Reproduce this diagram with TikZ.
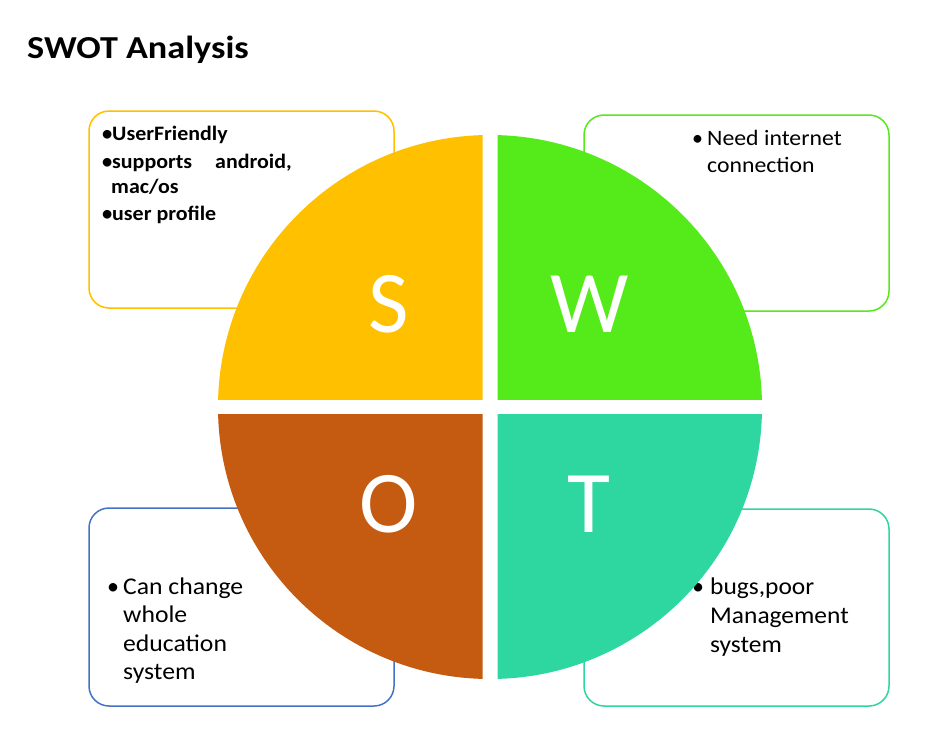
\documentclass[tikz,border=0pt]{standalone}
\usepackage{fontspec}
\usepackage{graphicx}
\setmainfont{Carlito}
\definecolor{scol}{HTML}{FFC000}
\definecolor{wcol}{HTML}{55EA1A}
\definecolor{ocol}{HTML}{C55A11}
\definecolor{tcol}{HTML}{2ED6A0}
\definecolor{obox}{HTML}{4472C4}
\newcommand{\widetxt}[2]{\scalebox{#1}[1]{#2}}
\tikzset{
  card/.style={draw, line width=1.5pt, rounded corners=20pt, fill=white},
  ln/.style={anchor=base west, inner sep=0pt, text=black},
  sline/.style={ln, font=\fontsize{20.5}{24}\selectfont\bfseries},
  wline/.style={ln, font=\fontsize{22}{26}\selectfont},
  oline/.style={ln, font=\fontsize{24}{28}\selectfont},
  letter/.style={text=white, inner sep=0pt, font=\fontsize{88}{88}\selectfont},
}
\begin{document}
\begin{tikzpicture}[x=1pt,y=-1pt]
\useasboundingbox (0,0) rectangle (937,731);
\fill[white] (0,0) rectangle (937,731);
\node[anchor=base west, inner sep=0pt, font=\fontsize{32}{36}\selectfont\bfseries] (title) at (27,58.5) {\widetxt{1.13}{SWOT Analysis}};
% boxes
\draw[card, draw=scol] (89,111) rectangle (394,308);
\draw[card, draw=wcol] (584,115) rectangle (889,311);
\draw[card, draw=obox] (89,508) rectangle (394,706);
\draw[card, draw=tcol] (584,509) rectangle (889,706);
% S text
\node[sline] (sb1) at (102,140) {\textbullet};
\node[sline] (s1) at (112,140) {\widetxt{1.07}{UserFriendly}};
\node[sline] (sb2) at (102,168) {\textbullet};
\node[sline] (s2) at (112,168) {\widetxt{1.07}{supports}};
\node[sline] (s2b) at (215,168) {\widetxt{1.07}{android,}};
\node[sline] (s3) at (111,193) {\widetxt{1.07}{mac/os}};
\node[sline] (sb4) at (102,220) {\textbullet};
\node[sline] (s4) at (112,220) {\widetxt{1.07}{user profile}};
% W text
\node[wline] (wb1) at (692,145) {\textbullet};
\node[wline] (w1) at (707,145) {\widetxt{1.08}{Need internet}};
\node[wline] (w2) at (707,172) {\widetxt{1.08}{connection}};
% O text
\node[oline] (ob1) at (107,594) {\textbullet};
\node[oline] (o1) at (123,594) {\widetxt{1.07}{Can change}};
\node[oline] (o2) at (123,622.5) {\widetxt{1.07}{whole}};
\node[oline] (o3) at (123,651) {\widetxt{1.07}{education}};
\node[oline] (o4) at (123,679.5) {\widetxt{1.07}{system}};
% T text
\node[oline] (tb1) at (692,594) {\textbullet};
\node[oline] (t1) at (710,594) {\widetxt{1.06}{bugs,poor}};
\node[oline] (t2) at (710,623) {\widetxt{1.06}{Management}};
\node[oline] (t3) at (710,652) {\widetxt{1.06}{system}};
% circle quadrants
\begin{scope}\clip (0,0) rectangle (482.5,399.5); \fill[scol] (490,407) circle (272); \end{scope}
\begin{scope}\clip (497.5,0) rectangle (937,399.5); \fill[wcol] (490,407) circle (272); \end{scope}
\begin{scope}\clip (0,414.5) rectangle (482.5,731); \fill[ocol] (490,407) circle (272); \end{scope}
\begin{scope}\clip (497.5,414.5) rectangle (937,731); \fill[tcol] (490,407) circle (272); \end{scope}
\node[letter] (S) at (389,304) {S};
\node[letter] (W) at (590,304) {W};
\node[letter] (O) at (389,504) {O};
\node[letter] (T) at (589,504) {T};
\end{tikzpicture}
\end{document}
